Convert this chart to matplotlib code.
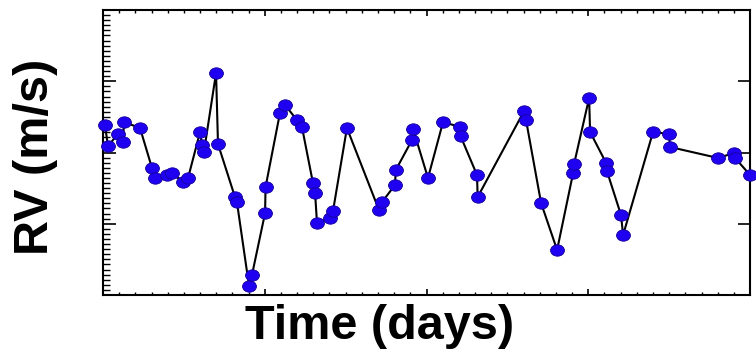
import numpy as np
import matplotlib
matplotlib.use("Agg")
import matplotlib.pyplot as plt
from matplotlib.path import Path
from matplotlib.transforms import Affine2D
from matplotlib.ticker import MultipleLocator, AutoMinorLocator, NullFormatter

# observation times (days) and radial velocities (m/s)
t_days = [0.12, 0.31, 0.93, 1.24, 1.30, 2.29, 3.03, 3.21, 3.96, 4.27,
          4.95, 5.26, 6.00, 6.12, 6.24, 6.99, 7.11, 8.16, 8.28, 9.03,
          9.21, 10.02, 10.05, 10.94, 11.25, 11.99, 12.30, 12.98, 13.11, 13.23,
          14.03, 14.22, 15.08, 17.06, 17.25, 18.05, 18.10, 19.10, 19.17, 20.09,
          21.02, 22.07, 22.10, 23.12, 23.16, 26.03, 26.15, 27.08, 28.07, 29.06,
          29.12, 30.05, 30.11, 31.10, 31.15, 32.02, 32.15, 34.00, 34.99, 35.05,
          38.02, 39.01, 39.07, 40.00]
rv = [3.86, 0.91, 2.60, 1.47, 4.28, 3.44, -2.18, -3.58, -3.16, -2.88,
      -4.14, -3.58, 2.88, 1.05, 0.07, 11.16, 1.19, -6.25, -6.95, -18.74,
      -17.19, -8.49, -4.84, 5.54, 6.67, 4.56, 3.58, -4.28, -5.68, -9.89,
      -9.19, -8.21, 3.44, -8.07, -6.95, -4.56, -2.46, 1.75, 3.30, -3.58,
      4.28, 3.58, 2.32, -3.16, -6.25, 5.82, 4.56, -7.09, -13.68, -2.88,
      -1.61, 7.65, 2.88, -1.47, -2.60, -8.77, -11.58, 2.88, 2.60, 0.77,
      -0.77, -0.07, -0.77, -3.16]

# slightly flattened ellipse marker
ellipse = Path.unit_circle().transformed(Affine2D().scale(1.0, 0.82))

fig = plt.figure(figsize=(7.56, 3.52), dpi=100)
ax = fig.add_axes([0.1362, 0.1619, 0.856, 0.8097])

ax.plot(t_days, rv, color="black", lw=1.5, zorder=2, clip_on=False)
ax.plot(t_days, rv, ls="none", marker=ellipse, ms=10,
        mfc="#2000f0", mec="#14009a", mew=0.6, zorder=3, clip_on=False)

ax.set_xlim(0, 40)
ax.set_ylim(-20, 20)

ax.xaxis.set_major_locator(MultipleLocator(10))
ax.xaxis.set_minor_locator(MultipleLocator(1))
ax.yaxis.set_major_locator(MultipleLocator(10))
ax.yaxis.set_minor_locator(AutoMinorLocator(14))
ax.xaxis.set_major_formatter(NullFormatter())
ax.yaxis.set_major_formatter(NullFormatter())

ax.tick_params(axis="x", which="major", direction="in", top=True, bottom=True,
               length=4.5, width=1.2, color="black")
ax.tick_params(axis="x", which="minor", direction="in", top=True, bottom=True,
               length=2.3, width=1.0, color="black")
ax.tick_params(axis="y", which="major", direction="in", left=True, right=True,
               length=9, width=1.2, color="black")
ax.tick_params(axis="y", which="minor", direction="in", left=True, right=False,
               length=5, width=1.0, color="black")

for side in ax.spines.values():
    side.set_linewidth(1.5)

label_font = ["Liberation Sans", "DejaVu Sans"]
ax.set_xlabel("Time (days)", fontsize=35, fontweight="bold", family=label_font)
ax.set_ylabel("RV (m/s)", fontsize=35, fontweight="bold", family=label_font)
ax.xaxis.set_label_coords(0.428, -0.03)
ax.yaxis.set_label_coords(-0.069, 0.484)

fig.savefig("out.png", dpi=100)
